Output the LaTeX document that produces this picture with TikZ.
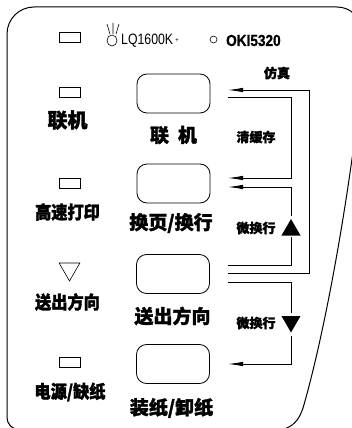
\documentclass[tikz,border=0pt]{standalone}
\usepackage{fontspec}
\usetikzlibrary{arrows.meta,shapes.geometric}
\newfontfamily\cjk[FakeBold=1.6]{Noto Sans CJK SC}
\newfontfamily\cjknarrow[FakeBold=1.6,FakeStretch=0.9]{Noto Sans CJK SC}
\newfontfamily\narrowsans[FakeStretch=0.82]{Liberation Sans}
\newfontfamily\okifont[FakeStretch=0.85,FakeBold=0.8]{Liberation Sans Bold}
\begin{document}
\begin{tikzpicture}[x=1pt,y=-1pt,
  frame/.style={line width=1pt},
  led/.style={draw, line width=0.7pt, minimum width=21pt, minimum height=10pt, inner sep=0pt},
  btn/.style={draw, line width=0.8pt, rounded corners=10pt, minimum width=73pt, minimum height=39pt, inner sep=0pt},
  lbl/.style={inner sep=0pt, font={\cjknarrow\bfseries\fontsize{18pt}{20pt}\selectfont}},
  biglbl/.style={inner sep=0pt, font={\cjk\bfseries\fontsize{20pt}{22pt}\selectfont}},
  mlbl/.style={inner sep=0pt, font={\cjk\bfseries\fontsize{19pt}{21pt}\selectfont}},
  slbl/.style={inner sep=0pt, font={\cjk\bfseries\fontsize{13pt}{15pt}\selectfont}},
  conn/.style={line width=0.8pt},
  arr/.style={conn, -{Latex[length=15pt,width=4.5pt]}},
  tri/.style={regular polygon, regular polygon sides=3, inner sep=0pt}
]
\useasboundingbox (0,0) rectangle (351,428);

% outline
\draw[frame] (7,417.5) -- (7,34) arc[start angle=180, end angle=90, radius=27pt]
  -- (337,7) arc[start angle=90, end angle=0, radius=25pt]
  -- (362,80) .. controls (345,230) and (320,350) .. (303,408)
  .. controls (299,420) and (293,427) .. (282,429.5)
  -- (19,429.5) arc[start angle=270, end angle=180, radius=12pt] -- cycle;

% top row
\node[led] (ledtop) at (70,37) {};
\draw[line width=0.6pt] (112,40.5) ellipse[x radius=5pt, y radius=5.5pt];
\draw[line width=0.6pt] (107,24) -- (110,34) (113,23) -- (113,34) (119,24) -- (116,34);
\node[inner sep=0pt, anchor=west, font={\narrowsans\fontsize{15pt}{17pt}\selectfont}] (lq) at (121,40.5) {LQ1600K};
\node[inner sep=0pt, font={\narrowsans\fontsize{7pt}{8pt}\selectfont}] (plus) at (177,40) {+};
\draw[line width=0.6pt] (213.5,39.5) circle[radius=3.5pt];
\node[inner sep=0pt, anchor=west, font={\okifont\fontsize{16pt}{18pt}\selectfont}] (oki) at (226,40.5) {OKI5320};

% left column
\node[led] (led1) at (69.5,92.5) {};
\node[biglbl] (l1) at (67.5,120) {联机};
\node[led] (led2) at (69.5,183) {};
\node[lbl] (l2) at (67.5,212) {高速打印};
\node[tri, draw, line width=0.6pt, shape border rotate=180, minimum size=24pt] (tri3) at (69.5,269) {};
\node[lbl] (l3) at (67.5,302) {送出方向};
\node[led] (led4) at (69.5,362.5) {};
\node[lbl] (l4) at (70,392) {电源/缺纸};

% buttons
\node[btn] (b1) at (173.5,93.5) {};
\node[mlbl] (m1) at (173.5,135) {联\hspace{9pt}机};
\node[btn] (b2) at (173.5,183.5) {};
\node[mlbl] (m2) at (171,223) {换页/换行};
\node[btn] (b3) at (173,274) {};
\node[mlbl] (m3) at (172.5,316) {送出方向};
\node[btn] (b4) at (173,364) {};
\node[mlbl] (m4) at (171.5,408) {装纸/卸纸};

% connector labels
\node[slbl] (s1) at (277,73) {仿真};
\node[slbl] (s2) at (256,137) {清缓存};
\node[slbl] (s3) at (256,228) {微换行};
\node[slbl] (s4) at (256,323) {微换行};
\node[tri, fill, minimum size=22pt] (tu) at (291,230) {};
\node[tri, fill, shape border rotate=180, minimum size=22pt] (td) at (291,321.5) {};

% connector coordinates
\coordinate (pA) at (228,273); \coordinate (qA) at (309,90); \coordinate (rA) at (228,90);
\coordinate (pB) at (228,97);  \coordinate (qB) at (291,178); \coordinate (rB) at (228,178);
\coordinate (pC) at (228,265); \coordinate (qC) at (291,237); \coordinate (sC) at (291,216); \coordinate (rC) at (228,187);
\coordinate (pD) at (228,282); \coordinate (qD) at (291,313); \coordinate (sD) at (291,336); \coordinate (rD) at (228,364);

\draw[arr] (pA) -| (qA) -- (rA);
\draw[arr] (pB) -| (qB) -- (rB);
\draw[conn] (pC) -| (qC);
\draw[arr] (sC) |- (rC);
\draw[conn] (pD) -| (qD);
\draw[arr] (sD) |- (rD);
\end{tikzpicture}
\end{document}
